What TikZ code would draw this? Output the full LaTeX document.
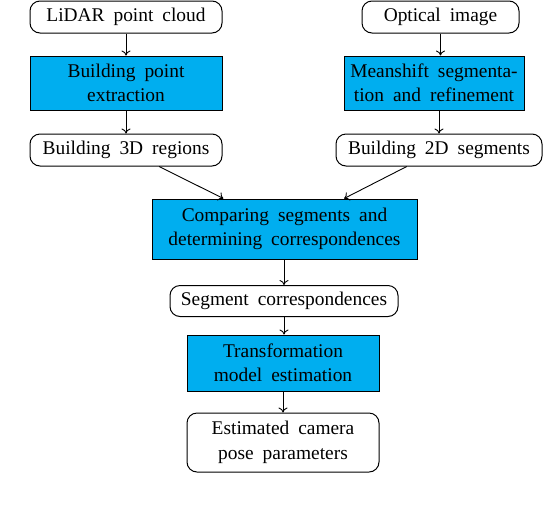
\documentclass[tikz,border=0pt]{standalone}
\usepackage{fontspec}
\setmainfont{Liberation Serif}
\usetikzlibrary{arrows.meta}
\definecolor{boxcyan}{RGB}{0,174,239}
\newcommand\diagfont{\fontsize{19.4}{24.5}\selectfont\spaceskip=9pt plus 2pt minus 1pt\relax}
\begin{document}
\begin{tikzpicture}[x=1pt,y=-1pt,
  font=\diagfont,
  rbox/.style={draw, rounded corners=10pt, align=center, inner sep=0pt, line width=1pt},
  cbox/.style={draw, fill=boxcyan, align=center, inner sep=0pt, line width=1pt},
  arr/.style={-{To[length=5pt,width=9pt]}, line width=0.9pt}]
\useasboundingbox (0,0) rectangle (548,504);
\node[rbox, minimum width=192pt, minimum height=32pt] (lidar) at (126,17) {LiDAR point cloud};
\node[cbox, minimum width=192pt, minimum height=54pt] (bpe) at (126,83) {Building point\\extraction};
\node[rbox, minimum width=192pt, minimum height=32pt] (b3d) at (126,150) {Building 3D regions};
\node[rbox, minimum width=157pt, minimum height=32pt] (optical) at (440.5,17) {Optical image};
\node[cbox, minimum width=180pt, minimum height=54pt] (mean) at (434,83) {Meanshift segmenta-\\tion and refinement};
\node[rbox, minimum width=206pt, minimum height=32pt] (b2d) at (439,150) {Building 2D segments};
\node[cbox, minimum width=265pt, minimum height=60pt] (comp) at (284.5,229) {Comparing segments and\\determining correspondences};
\node[rbox, minimum width=228pt, minimum height=31pt] (seg) at (284,301) {Segment correspondences};
\node[cbox, minimum width=192pt, minimum height=56pt] (trans) at (283,363) {Transformation\\model estimation};
\node[rbox, minimum width=192pt, minimum height=59pt] (est) at (283,442.5) {Estimated camera\\pose parameters};
\draw[arr] (lidar) -- (bpe);
\draw[arr] (bpe) -- (b3d);
\draw[arr] (optical) -- (optical |- mean.north);
\draw[arr] (mean.south -| b2d) -- (b2d);
\draw[arr] (b3d) -- (comp);
\draw[arr] (b2d) -- (comp);
\draw[arr] (comp.south -| seg) -- (seg);
\draw[arr] (seg) -- (seg |- trans.north);
\draw[arr] (trans.south -| est) -- (est);
\end{tikzpicture}
\end{document}
